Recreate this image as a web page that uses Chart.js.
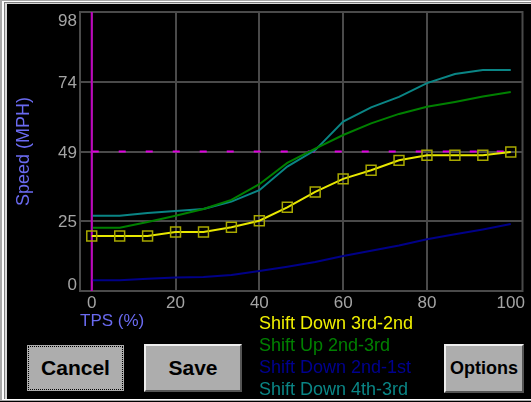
<!DOCTYPE html>
<html>
<head>
<meta charset="utf-8">
<script src="https://cdn.jsdelivr.net/npm/chart.js@4.4.1/dist/chart.umd.min.js"></script>
<style>
  html, body { margin: 0; padding: 0; background: #000; width: 531px; height: 402px; overflow: hidden; font-family: "Liberation Sans", Arial, sans-serif; }
  #f1 { position: absolute; left: 0; top: 0; width: 600px; height: 401px; box-sizing: border-box; border-left: 2px solid #a8a8a8; border-top: 1px solid #a8a8a8; border-bottom: 1px solid #a8a8a8; }
  #f2 { height: 100%; box-sizing: border-box; border-left: 2px solid #fff; border-top: 1px solid #fff; border-bottom: 1px solid #fff; }
  #f3 { height: 100%; box-sizing: border-box; border-left: 1px solid #808080; border-top: 1px solid #808080; }
  #f4 { height: 100%; box-sizing: border-box; border-left: 2px solid #d8d8d8; border-top: 1px solid #d8d8d8; background: #000; }
  canvas { position: absolute; left: 0; top: 0; }
  #legend { position: absolute; left: 259px; top: 312px; font-size: 18px; line-height: 22px; white-space: nowrap; }
  .btn { position: absolute; box-sizing: border-box; background: #adadad; color: #000; font-weight: bold;
         display: flex; align-items: center; justify-content: center;
         border-top: 2px solid #eeeeee; border-left: 2px solid #eeeeee; border-right: 2px solid #555; border-bottom: 2px solid #555; }
  #cancel { left: 26px; top: 344px; width: 99px; height: 48px; font-size: 21px; border: 1px solid #000; }
  #cancel span.focus { position: absolute; left: 1px; top: 1px; right: 1px; bottom: 1px; border: 1px dotted #000; }
  #save { left: 144px; top: 344px; width: 98px; height: 48px; font-size: 21px; }
  #options { left: 444px; top: 344px; width: 80px; height: 49px; font-size: 18px; }
</style>
</head>
<body>
<div id="f1"><div id="f2"><div id="f3"><div id="f4"></div></div></div></div>
<canvas id="shift-graph" width="531" height="402"></canvas>
<div id="legend"></div>
<div class="btn" id="cancel"><span class="focus"></span>Cancel</div>
<div class="btn" id="save">Save</div>
<div class="btn" id="options">Options</div>
<script>
const CTX = document.getElementById('shift-graph');

// throttle position (%) for every table point
const tps = [0, 6.67, 13.33, 20, 26.67, 33.33, 40, 46.67, 53.33, 60, 66.67, 73.33, 80, 86.67, 93.33, 100];

// speeds (MPH)
const down32 = [19.3, 19.3, 19.3, 20.7, 20.7, 22.4, 24.7, 29.4, 34.8, 39.4, 42.4, 45.9, 47.7, 47.7, 47.7, 48.8];
const up23   = [22.2, 22.2, 24.2, 26.4, 28.8, 32.0, 37.5, 45.0, 50.0, 54.8, 58.9, 62.2, 64.7, 66.4, 68.3, 69.9];
const down21 = [3.8, 3.8, 4.3, 4.7, 4.9, 5.6, 7.0, 8.5, 10.2, 12.3, 14.1, 16.0, 18.2, 19.9, 21.6, 23.5];
const down43 = [26.4, 26.4, 27.4, 28.1, 28.8, 31.4, 35.4, 43.7, 49.5, 59.5, 64.5, 68.2, 73.0, 76.2, 77.6, 77.6];

const names = ['Shift Down 3rd-2nd', 'Shift Up 2nd-3rd', 'Shift Down 2nd-1st', 'Shift Down 4th-3rd'];
const colors = ['#e8e800', '#008000', '#000088', '#0a8585'];
const textColors = ['#f0f000', '#008000', '#000090', '#0a8585'];

const xTicks = [0, 20, 40, 60, 80, 100];
const yTicks = [0, 24.5, 49, 73.5, 98];
const xRange = [-2.8, 102.8];
const yRange = [0, 98];

// cursor lines
const cursorTps = 0;
const cursorSpeed = 49;

const pts = (arr) => arr.map((v, i) => ({ x: tps[i], y: v }));

// legend from the names
document.getElementById('legend').innerHTML =
  names.map((n, i) => '<div style="color:' + textColors[i] + '">' + n + '</div>').join('');

const gridGray = '#4a4a4a';

const framePlugin = {
  id: 'frame',
  beforeDatasetsDraw(chart) {
    const a = chart.chartArea;
    const c = chart.ctx;
    c.save();
    c.strokeStyle = gridGray;
    c.lineWidth = 2;
    c.strokeRect(a.left, a.top, a.right - a.left, a.bottom - a.top);
    c.restore();
  },
  afterDraw(chart) {
    // y labels, kept inside the frame at the ends
    const s = chart.scales.y;
    const a = chart.chartArea;
    const c = chart.ctx;
    c.save();
    c.fillStyle = '#a4a4a4';
    c.font = '17px "Liberation Sans", Arial, sans-serif';
    c.textAlign = 'right';
    c.textBaseline = 'alphabetic';
    s.ticks.forEach(t => {
      const p = s.getPixelForValue(t.value);
      const y = Math.min(Math.max(p + 6, a.top + 14), a.bottom - 1);
      c.fillText(String(Math.round(t.value)), a.left - 3, y);
    });
    c.restore();
  }
};

new Chart(CTX, {
  type: 'line',
  data: {
    datasets: [
      {
        label: names[0], data: pts(down32), borderColor: colors[0], borderWidth: 2,
        pointStyle: 'rect', pointRadius: 7, pointBorderWidth: 1.5,
        pointBorderColor: '#a8a800', pointBackgroundColor: 'rgba(0,0,0,0)'
      },
      {
        label: 'cursor tps', data: [{ x: cursorTps, y: yRange[0] }, { x: cursorTps, y: yRange[1] }],
        borderColor: '#c000c0', borderWidth: 2, pointRadius: 0
      },
      { label: names[1], data: pts(up23), borderColor: colors[1], borderWidth: 2, pointRadius: 0 },
      { label: names[2], data: pts(down21), borderColor: colors[2], borderWidth: 2, pointRadius: 0 },
      { label: names[3], data: pts(down43), borderColor: colors[3], borderWidth: 2, pointRadius: 0 },
      {
        label: 'cursor speed', data: [{ x: cursorTps, y: cursorSpeed }, { x: xRange[1], y: cursorSpeed }],
        borderColor: '#e000e0', borderWidth: 2, borderDash: [7, 20], pointRadius: 0
      }
    ]
  },
  options: {
    responsive: false,
    animation: false,
    events: [],
    layout: { padding: { left: 0, top: 12, right: 2, bottom: 0 } },
    elements: { line: { tension: 0, fill: false } },
    plugins: { legend: { display: false }, tooltip: { enabled: false } },
    scales: {
      x: {
        type: 'linear', min: xRange[0], max: xRange[1],
        afterBuildTicks: s => { s.ticks = xTicks.map(v => ({ value: v })); },
        afterFit: s => { s.height = 111; s.paddingLeft = 0; s.paddingRight = 0; },
        border: { display: false },
        grid: { color: c => (c.tick && c.tick.value === 100) ? 'rgba(0,0,0,0)' : gridGray, lineWidth: 2, drawTicks: false },
        ticks: {
          color: '#a4a4a4', padding: 2, autoSkip: false, maxRotation: 0,
          font: { family: '"Liberation Sans", Arial, sans-serif', size: 17 },
          callback: v => String(v)
        },
        title: {
          display: true, text: 'TPS (%)', align: 'start', color: '#6a6af0',
          font: { family: '"Liberation Sans", Arial, sans-serif', size: 17 },
          padding: { top: 0, bottom: 70 }
        }
      },
      y: {
        min: yRange[0], max: yRange[1],
        afterBuildTicks: s => { s.ticks = yTicks.map(v => ({ value: v })); },
        afterFit: s => { s.width = 80; },
        border: { display: false },
        grid: { color: gridGray, lineWidth: 2, drawTicks: false },
        ticks: { display: false },
        title: {
          display: true, text: 'Speed (MPH)', color: '#6a6af0',
          font: { family: '"Liberation Sans", Arial, sans-serif', size: 18 },
          padding: { top: 13, bottom: 0 }
        }
      }
    }
  },
  plugins: [framePlugin]
});
</script>
</body>
</html>
